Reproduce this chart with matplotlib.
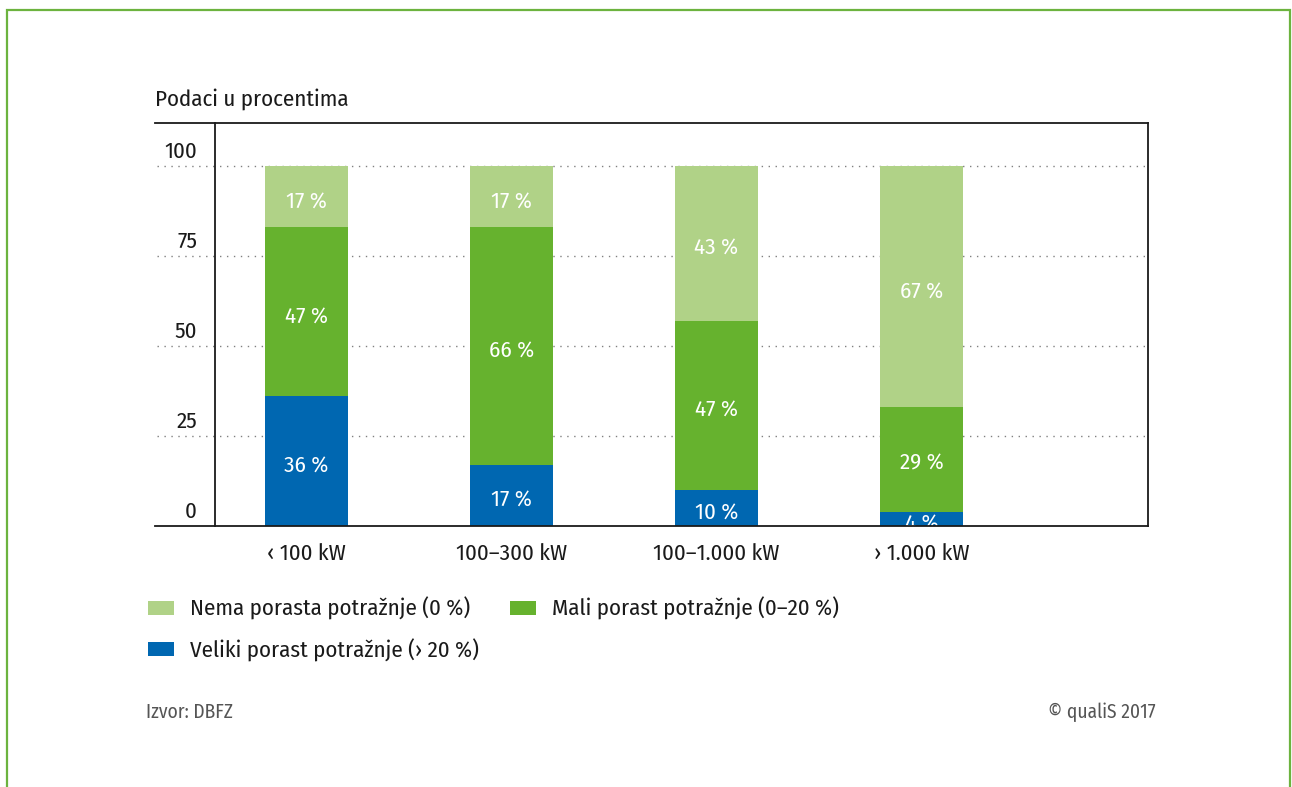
import matplotlib
matplotlib.use("Agg")
import matplotlib.pyplot as plt
from matplotlib.patches import Rectangle
from matplotlib.transforms import blended_transform_factory, offset_copy

plt.rcParams['font.family'] = ['Fira Sans Condensed', 'DejaVu Sans']

categories = ["\u2039 100 kW", "100\u2013300 kW", "100\u20131.000 kW", "\u203a 1.000 kW"]
veliki = [36, 17, 10, 4]
mali = [47, 66, 47, 29]
nema = [17, 17, 43, 67]
series_labels = ["Veliki porast potra\u017enje (\u203a 20 %)",
                 "Mali porast potra\u017enje (0\u201320 %)",
                 "Nema porasta potra\u017enje (0 %)"]
series_colors = ["#0067b1", "#66b22e", "#b0d287"]
yticks = [0, 25, 50, 75, 100]
title = "Podaci u procentima"
source = "Izvor: DBFZ"
copyright_text = "\u00a9 qualiS 2017"

FS = 16.5
W, H = 1292, 787
fig = plt.figure(figsize=(W/100, H/100), dpi=100)
ax = fig.add_axes([215/W, 1-526/H, (1148-215)/W, (526-123)/H])

x = list(range(len(categories)))
bar_w = 0.405
series = [veliki, mali, nema]
bottoms = [0]*len(categories)
handles = []
lab_trans = offset_copy(ax.transData, fig=fig, x=0, y=-1.5, units='points')
for vals, col, lab in zip(series, series_colors, series_labels):
    bars = ax.bar(x, vals, bar_w, bottom=bottoms, color=col, label=lab, zorder=3, linewidth=0)
    handles.append(bars)
    for xi, v, b in zip(x, vals, bottoms):
        ax.text(xi, b + v/2, f"{v} %", ha='center', va='center_baseline', color='white',
                fontsize=FS, zorder=4, transform=lab_trans)
    bottoms = [b + v for b, v in zip(bottoms, vals)]

ax.set_xlim(-0.446, 4.105)
ax.set_ylim(0, 112)

# spines
for s in ax.spines.values():
    s.set_linewidth(1.3)
    s.set_color('#1a1a1a')
ax.spines['top'].set_visible(False)
ax.spines['bottom'].set_visible(False)
ext = (155-215)/(1148-215)
ax.plot([ext, 1], [1, 1], transform=ax.transAxes, color='#1a1a1a', lw=1.3, clip_on=False, zorder=5)
ax.plot([ext, 1], [0, 0], transform=ax.transAxes, color='#1a1a1a', lw=1.3, clip_on=False, zorder=5)

# dotted grid
gext = (157-215)/(1148-215)
for t in yticks[1:]:
    ax.axhline(t, xmin=gext, xmax=1, color='#808080', lw=1.0, ls=(0, (1, 4)), clip_on=False, zorder=1)

# y tick labels above grid lines
ax.set_yticks([])
trans = offset_copy(blended_transform_factory(ax.transAxes, ax.transData), fig=fig, x=0, y=6, units='points')
for t in yticks:
    ax.text((197-215)/(1148-215), t, f"{t}", transform=trans, ha='right', va='baseline', fontsize=FS, color='#1a1a1a')

ax.set_xticks(x)
ax.set_xticklabels(categories, fontsize=FS, color='#1a1a1a')
ax.tick_params(axis='x', length=0, pad=12.5)

fig.text(155/W, 1-106/H, title, fontsize=FS, ha='left', va='baseline', color='#1a1a1a')

leg = fig.legend([handles[2], handles[0], handles[1]],
                 [series_labels[2], series_labels[0], series_labels[1]],
                 ncol=2, loc='upper left', bbox_to_anchor=(148/W, 1-597/H),
                 frameon=False, fontsize=FS, handlelength=1.13, handleheight=0.57,
                 handletextpad=0.7, labelspacing=0.8, columnspacing=1.35, borderpad=0, borderaxespad=0)
for t in leg.get_texts():
    t.set_color('#1a1a1a')

fig.text(146/W, 1-712/H, source, fontsize=14, ha='left', va='center', color='#555555')
fig.text(1156/W, 1-712/H, copyright_text, fontsize=14, ha='right', va='center', color='#555555')

fig.patches.append(Rectangle((7/W, -0.05), (1290-7)/W, (1-10/H)+0.05, transform=fig.transFigure,
                             fill=False, edgecolor='#6cb33f', lw=1.6))

plt.savefig("out.png", dpi=100)
